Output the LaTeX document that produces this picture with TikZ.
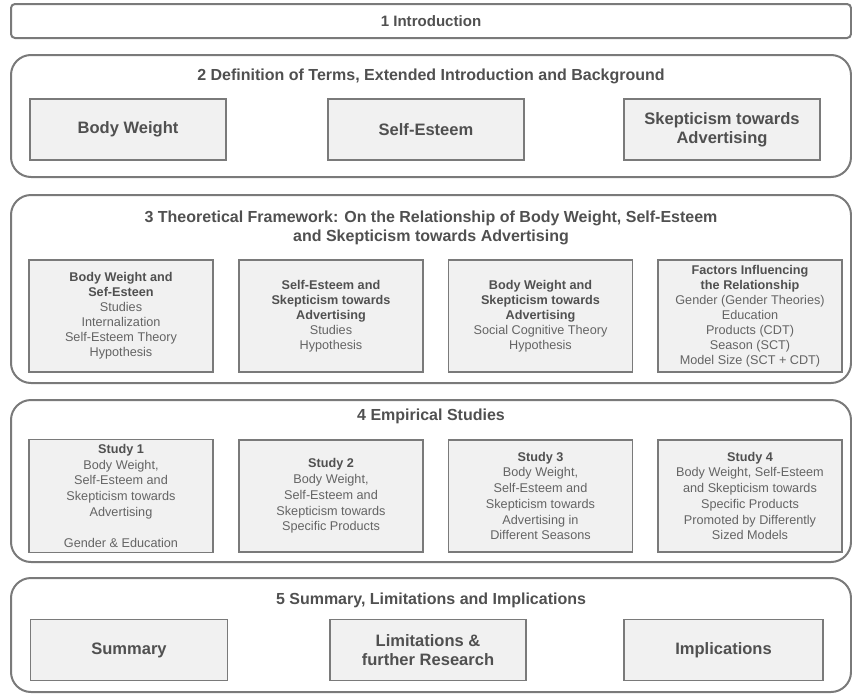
\documentclass[tikz,border=0pt]{standalone}
\usepackage{fontspec}
\setmainfont{Liberation Sans}
\usepackage{xcolor}
\usepackage{tikz}
\usetikzlibrary{positioning}
\definecolor{frame}{RGB}{122,122,122}
\definecolor{panel}{RGB}{241,241,241}
\definecolor{ink}{RGB}{80,80,80}
\definecolor{softink}{RGB}{100,100,100}
\newcommand{\boxhead}[1]{{\bfseries\color{ink}#1}}
\tikzset{
  chapter/.style={draw=frame, line width=1.5pt, rounded corners=15pt,
                  minimum width=630pt, inner sep=0pt},
  chaptitle/.style={font=\bfseries\fontsize{12}{14.2}\selectfont, text=ink, align=center},
  topic/.style={draw=frame, fill=panel, line width=1.1pt, minimum width=147pt,
                minimum height=45.75pt, align=center, text=ink,
                font=\bfseries\fontsize{12.4}{14.5}\selectfont},
  detail/.style={draw=frame, fill=panel, line width=1.1pt, minimum width=138pt,
                 minimum height=84pt, align=center, text=softink,
                 font=\fontsize{9.5}{11.3}\selectfont}
}

\begin{document}
\begin{tikzpicture}[x=0.75pt, y=-0.75pt]
  \useasboundingbox (0,0) rectangle (852,696);
  % chapter frames
  \node[chapter, rounded corners=3pt, minimum height=25.5pt] (intro) at (431,21) {};
  \node[chapter, minimum height=91.5pt]  (defs)   at (431,116) {};
  \node[chapter, minimum height=141pt]   (theory) at (431,289) {};
  \node[chapter, minimum height=121.5pt] (empir)  at (431,481) {};
  \node[chapter, minimum height=85.5pt]  (concl)  at (431,635) {};

  % chapter titles
  \node[chaptitle, font=\bfseries\fontsize{11.3}{13}\selectfont] (t1) at (431,21) {1 Introduction};
  \node[chaptitle] (t2) at (431,76) {2 Definition of Terms, Extended Introduction and Background};
  \node[chaptitle] (t3) at (431,228)
    {3 Theoretical Framework: On the Relationship of Body Weight, Self-Esteem\\
     and Skepticism towards Advertising};
  \node[chaptitle] (t4) at (431,416) {4 Empirical Studies};
  \node[chaptitle] (t5) at (431,600) {5 Summary, Limitations and Implications};

  % chapter 2: terms
  \node[topic] (bw) at (128,129.5) {Body Weight};
  \node[topic] (se) at (426,129.5) {Self-Esteem};
  \node[topic] (sk) at (722,129.5) {Skepticism towards\\Advertising};

  % chapter 3: framework
  \node[detail] (bwse) at (121,316)
    {\boxhead{Body Weight and}\\\boxhead{Sef-Esteen}\\Studies\\Internalization\\Self-Esteem Theory\\Hypothesis};
  \node[detail] (sesk) at (331,316)
    {\boxhead{Self-Esteem and}\\\boxhead{Skepticism towards}\\\boxhead{Advertising}\\Studies\\Hypothesis};
  \node[detail] (bwsk) at (540.5,316)
    {\boxhead{Body Weight and}\\\boxhead{Skepticism towards}\\\boxhead{Advertising}\\Social Cognitive Theory\\Hypothesis};
  \node[detail] (fac) at (750,316)
    {\boxhead{Factors Influencing}\\\boxhead{the Relationship}\\Gender (Gender Theories)\\Education\\Products (CDT)\\Season (SCT)\\Model Size (SCT + CDT)};

  % chapter 4: studies
  \node[detail, font=\fontsize{9.5}{11.8}\selectfont] (st1) at (121,496)
    {\boxhead{Study 1}\\Body Weight,\\Self-Esteem and\\Skepticism towards\\Advertising\\[11.8pt]Gender \& Education};
  \node[detail, font=\fontsize{9.5}{11.8}\selectfont] (st2) at (331,496)
    {\boxhead{Study 2}\\Body Weight,\\Self-Esteem and\\Skepticism towards\\Specific Products};
  \node[detail, font=\fontsize{9.5}{11.8}\selectfont] (st3) at (540.5,496)
    {\boxhead{Study 3}\\Body Weight,\\Self-Esteem and\\Skepticism towards\\Advertising in\\Different Seasons};
  \node[detail, font=\fontsize{9.5}{11.8}\selectfont] (st4) at (750,496)
    {\boxhead{Study 4}\\Body Weight, Self-Esteem\\and Skepticism towards\\Specific Products\\Promoted by Differently\\Sized Models};

  % chapter 5: outlook
  \node[topic, minimum width=148pt] (sum) at (129,650) {Summary};
  \node[topic] (lim) at (428,650) {Limitations \&\\further Research};
  \node[topic, minimum width=149pt] (imp) at (723.5,650) {Implications};
\end{tikzpicture}
\end{document}
